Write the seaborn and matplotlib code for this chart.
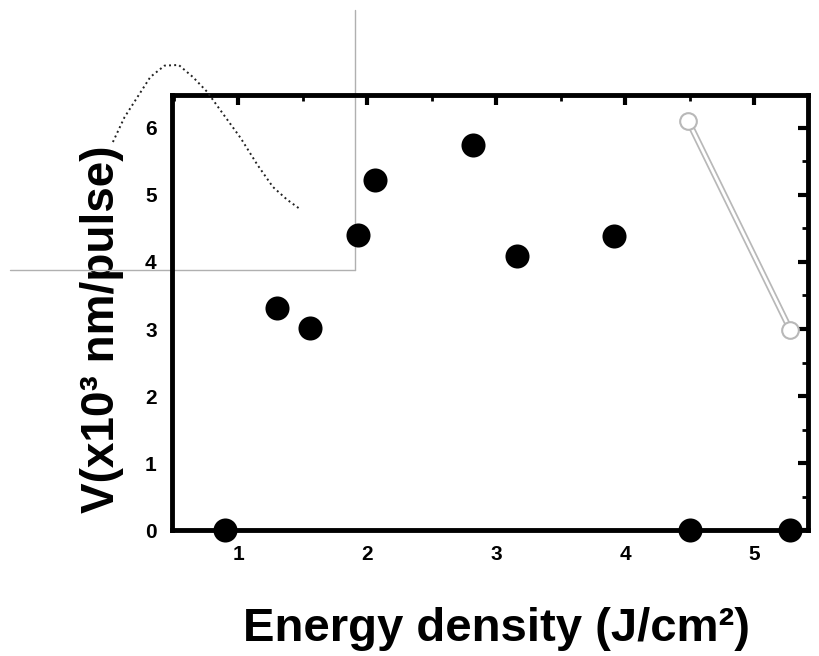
import numpy as np
import pandas as pd
import matplotlib
matplotlib.use('Agg')
import matplotlib.pyplot as plt
from matplotlib.ticker import MultipleLocator
import seaborn as sns

# ---------------------------------------------------------------
# DATA
# ---------------------------------------------------------------
energy = [0.90, 1.30, 1.56, 1.93, 2.06, 2.82, 3.16, 3.91, 4.50, 5.28]
velocity = [0.0, 3.31, 3.01, 4.40, 5.22, 5.75, 4.09, 4.39, 0.0, 0.0]

# grey open-marker segment
seg_x = [4.49, 5.28]
seg_y = [6.10, 2.99]

# dotted curve sticking out of the top-left corner
curve_x = [0.03, 0.12, 0.22, 0.32, 0.43, 0.54, 0.65, 0.76, 0.88, 1.02, 1.15, 1.27, 1.38, 1.48]
curve_y = [5.79, 6.16, 6.46, 6.76, 6.93, 6.94, 6.76, 6.54, 6.22, 5.85, 5.45, 5.12, 4.93, 4.79]

# thin grey frame lines (vertical + horizontal)
frame_vx = [1.91, 1.91]
frame_vy = [7.76, 3.88]
frame_hx = [-0.77, 1.91]
frame_hy = [3.88, 3.88]

df = pd.DataFrame({'energy': energy, 'velocity': velocity})

sns.set_style('white')
plt.rcParams['font.family'] = ['Liberation Sans', 'DejaVu Sans']
plt.rcParams['font.weight'] = 'bold'
plt.rcParams['text.color'] = 'black'
plt.rcParams['axes.labelcolor'] = 'black'
plt.rcParams['xtick.color'] = 'black'
plt.rcParams['ytick.color'] = 'black'

fig = plt.figure(figsize=(8.19, 6.56), dpi=100)
ax = fig.add_axes([0.210, 0.192, 0.777, 0.663])

sns.scatterplot(data=df, x='energy', y='velocity', ax=ax, s=300, color='black',
                edgecolor='black', linewidth=0, zorder=5, clip_on=False)

# open-marker segment: thick grey line with white core
ax.plot(seg_x, seg_y, color='#b8b8b8', lw=4.5, zorder=3, solid_capstyle='round')
ax.plot(seg_x, seg_y, color='white', lw=2, zorder=3.5)
ax.plot(seg_x, seg_y, ls='none', marker='o', ms=12, mfc='white', mec='#b8b8b8', mew=1.5, zorder=4)

ax.plot(curve_x, curve_y, ls=':', color='#222222', lw=1.4, clip_on=False, zorder=6)
ax.plot(frame_vx, frame_vy, color='#b0b0b0', lw=1, clip_on=False, zorder=1)
ax.plot(frame_hx, frame_hy, color='#b0b0b0', lw=1, clip_on=False, zorder=1)

ax.set_xlim(0.488, 5.42)
ax.set_ylim(0, 6.49)
ax.xaxis.set_major_locator(MultipleLocator(1))
ax.xaxis.set_minor_locator(MultipleLocator(0.5))
ax.yaxis.set_major_locator(MultipleLocator(1))
ax.yaxis.set_minor_locator(MultipleLocator(0.5))

for side in ['left', 'right', 'top', 'bottom']:
    ax.spines[side].set_visible(True)
    ax.spines[side].set_linewidth(3.5)
    ax.spines[side].set_color('black')

ax.tick_params(which='major', direction='out', length=7, width=3, labelsize=15, pad=4)
ax.tick_params(which='minor', direction='out', length=4, width=2)
for lab in ax.get_xticklabels() + ax.get_yticklabels():
    lab.set_fontweight('bold')

# mirrored ticks pointing inward on top/right
top = ax.secondary_xaxis('top')
top.xaxis.set_major_locator(MultipleLocator(1))
top.xaxis.set_minor_locator(MultipleLocator(0.5))
top.tick_params(which='major', direction='in', length=7, width=3, labeltop=False)
top.tick_params(which='minor', direction='in', length=4, width=2)
top.spines['top'].set_visible(False)
right = ax.secondary_yaxis('right')
right.yaxis.set_major_locator(MultipleLocator(1))
right.yaxis.set_minor_locator(MultipleLocator(0.5))
right.tick_params(which='major', direction='in', length=7, width=3, labelright=False)
right.tick_params(which='minor', direction='in', length=4, width=2)
right.spines['right'].set_visible(False)

ax.set_xlabel('Energy density (J/cm²)', fontsize=34, fontweight='bold')
ax.set_ylabel('V(x10³ nm/pulse)', fontsize=33, fontweight='bold')
ax.xaxis.set_label_coords(0.51, -0.178)
ax.yaxis.set_label_coords(-0.075, 0.462)

fig.savefig('out.png', dpi=100)
